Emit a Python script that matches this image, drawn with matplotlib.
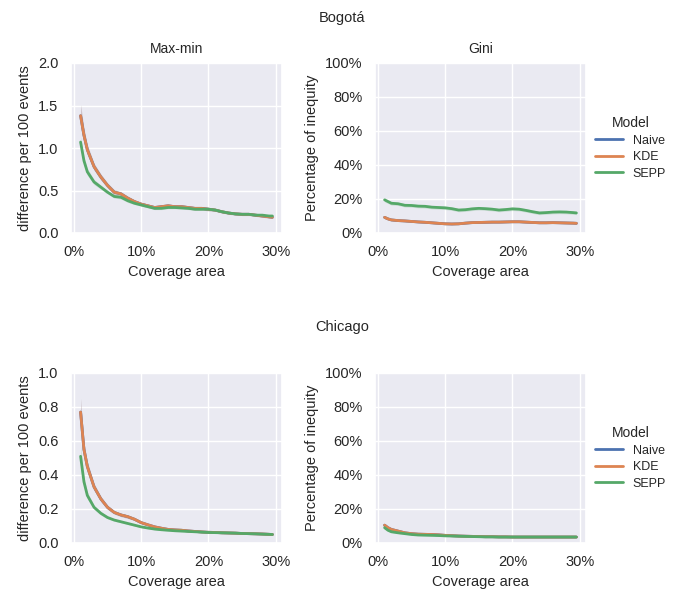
import numpy as np
import matplotlib
matplotlib.use("Agg")
import matplotlib.pyplot as plt
from matplotlib.ticker import PercentFormatter, MultipleLocator
import seaborn as sns

# ---------------- data ----------------
coverage = [0.01, 0.015, 0.02, 0.03, 0.04, 0.05, 0.06, 0.07, 0.08, 0.09, 0.10,
            0.11, 0.12, 0.13, 0.14, 0.15, 0.16, 0.17, 0.18, 0.19, 0.20,
            0.21, 0.22, 0.23, 0.24, 0.25, 0.26, 0.27, 0.28, 0.29, 0.295]

models = ["Naive", "KDE", "SEPP"]
colors = ["#4c72b0", "#dd8452", "#55a868"]

# Bogota, Max-min
bog_maxmin_kde = [1.38, 1.15, 0.98, 0.78, 0.66, 0.56, 0.48, 0.46, 0.41, 0.37, 0.34,
                  0.32, 0.30, 0.31, 0.32, 0.31, 0.31, 0.30, 0.29, 0.29, 0.28,
                  0.27, 0.25, 0.235, 0.225, 0.22, 0.22, 0.21, 0.20, 0.19, 0.185]
bog_maxmin_naive = bog_maxmin_kde
bog_maxmin_sepp = [1.07, 0.85, 0.72, 0.60, 0.54, 0.48, 0.43, 0.42, 0.38, 0.35, 0.33,
                   0.31, 0.29, 0.29, 0.30, 0.30, 0.295, 0.29, 0.28, 0.28, 0.28,
                   0.27, 0.25, 0.235, 0.225, 0.22, 0.22, 0.21, 0.21, 0.20, 0.20]
bog_maxmin_kde_band = [0.13, 0.08, 0.06, 0.04, 0.035, 0.03, 0.03, 0.025, 0.025, 0.02, 0.02,
                       0.02, 0.02, 0.02, 0.02, 0.02, 0.02, 0.02, 0.02, 0.02, 0.02,
                       0.015, 0.015, 0.015, 0.015, 0.015, 0.015, 0.015, 0.015, 0.015, 0.015]
bog_maxmin_sepp_band = [0.06, 0.05, 0.04, 0.03, 0.025, 0.02, 0.02, 0.02, 0.02, 0.015, 0.015,
                        0.015, 0.015, 0.015, 0.015, 0.015, 0.015, 0.015, 0.015, 0.015, 0.015,
                        0.012, 0.012, 0.012, 0.012, 0.012, 0.012, 0.012, 0.012, 0.012, 0.012]

# Bogota, Gini
bog_gini_kde = [0.092, 0.083, 0.077, 0.073, 0.071, 0.068, 0.065, 0.063, 0.060, 0.057, 0.054,
                0.053, 0.054, 0.058, 0.061, 0.062, 0.063, 0.064, 0.064, 0.065, 0.066,
                0.066, 0.064, 0.062, 0.060, 0.060, 0.061, 0.060, 0.059, 0.058, 0.057]
bog_gini_naive = bog_gini_kde
bog_gini_sepp = [0.195, 0.185, 0.175, 0.172, 0.163, 0.162, 0.158, 0.157, 0.152, 0.150, 0.148,
                 0.143, 0.135, 0.137, 0.142, 0.145, 0.143, 0.140, 0.135, 0.138, 0.142,
                 0.140, 0.133, 0.125, 0.118, 0.120, 0.123, 0.124, 0.123, 0.120, 0.118]
bog_gini_kde_band = [0.006, 0.005, 0.005, 0.004, 0.004, 0.004, 0.004, 0.004, 0.004, 0.004, 0.004,
                     0.004, 0.004, 0.004, 0.004, 0.004, 0.004, 0.004, 0.004, 0.004, 0.004,
                     0.004, 0.004, 0.004, 0.004, 0.004, 0.004, 0.004, 0.004, 0.004, 0.004]
bog_gini_sepp_band = [0.012, 0.011, 0.011, 0.010, 0.010, 0.010, 0.010, 0.010, 0.010, 0.010, 0.010,
                      0.010, 0.010, 0.010, 0.010, 0.010, 0.010, 0.010, 0.010, 0.010, 0.010,
                      0.010, 0.010, 0.010, 0.010, 0.010, 0.010, 0.010, 0.010, 0.010, 0.010]

# Chicago, Max-min
chi_maxmin_kde = [0.77, 0.55, 0.45, 0.33, 0.26, 0.21, 0.18, 0.165, 0.155, 0.14, 0.12,
                  0.107, 0.095, 0.087, 0.08, 0.077, 0.075, 0.071, 0.068, 0.065, 0.063,
                  0.062, 0.06, 0.059, 0.058, 0.056, 0.055, 0.054, 0.053, 0.051, 0.05]
chi_maxmin_naive = chi_maxmin_kde
chi_maxmin_sepp = [0.51, 0.36, 0.28, 0.21, 0.175, 0.15, 0.135, 0.125, 0.115, 0.105, 0.095,
                   0.088, 0.082, 0.078, 0.075, 0.072, 0.07, 0.068, 0.066, 0.064, 0.062,
                   0.061, 0.06, 0.059, 0.058, 0.056, 0.055, 0.054, 0.052, 0.051, 0.05]
chi_maxmin_kde_band = [0.08, 0.04, 0.03, 0.02, 0.015, 0.012, 0.01, 0.01, 0.01, 0.008, 0.008,
                       0.006, 0.006, 0.005, 0.005, 0.005, 0.004, 0.004, 0.004, 0.004, 0.004,
                       0.003, 0.003, 0.003, 0.003, 0.003, 0.003, 0.003, 0.003, 0.003, 0.003]
chi_maxmin_sepp_band = [0.06, 0.03, 0.02, 0.012, 0.01, 0.008, 0.007, 0.006, 0.006, 0.005, 0.005,
                        0.004, 0.004, 0.004, 0.004, 0.003, 0.003, 0.003, 0.003, 0.003, 0.003,
                        0.003, 0.003, 0.003, 0.003, 0.003, 0.003, 0.003, 0.003, 0.003, 0.003]

# Chicago, Gini
chi_gini_kde = [0.105, 0.09, 0.08, 0.07, 0.06, 0.055, 0.052, 0.051, 0.05, 0.048, 0.045,
                0.043, 0.041, 0.040, 0.039, 0.038, 0.037, 0.037, 0.036, 0.036, 0.035,
                0.035, 0.035, 0.035, 0.035, 0.035, 0.035, 0.035, 0.035, 0.035, 0.035]
chi_gini_naive = chi_gini_kde
chi_gini_sepp = [0.09, 0.075, 0.066, 0.06, 0.055, 0.05, 0.047, 0.046, 0.045, 0.044, 0.042,
                 0.041, 0.040, 0.039, 0.038, 0.037, 0.036, 0.036, 0.035, 0.035, 0.035,
                 0.035, 0.035, 0.035, 0.035, 0.035, 0.035, 0.035, 0.035, 0.035, 0.035]
chi_gini_kde_band = [0.006, 0.005, 0.004, 0.004, 0.003, 0.003, 0.003, 0.003, 0.003, 0.003, 0.003,
                     0.002, 0.002, 0.002, 0.002, 0.002, 0.002, 0.002, 0.002, 0.002, 0.002,
                     0.002, 0.002, 0.002, 0.002, 0.002, 0.002, 0.002, 0.002, 0.002, 0.002]
chi_gini_sepp_band = chi_gini_kde_band

cities = ["Bogotá", "Chicago"]
metrics = ["Max-min", "Gini"]
ylabels = ["difference per 100 events", "Percentage of inequity"]
xticks = [0.0, 0.10, 0.20, 0.30]

panels = {
    ("Bogotá", "Max-min"): ([bog_maxmin_naive, bog_maxmin_kde, bog_maxmin_sepp],
                            [bog_maxmin_kde_band, bog_maxmin_kde_band, bog_maxmin_sepp_band], 2.0, 0.5),
    ("Bogotá", "Gini"): ([bog_gini_naive, bog_gini_kde, bog_gini_sepp],
                         [bog_gini_kde_band, bog_gini_kde_band, bog_gini_sepp_band], 1.0, 0.2),
    ("Chicago", "Max-min"): ([chi_maxmin_naive, chi_maxmin_kde, chi_maxmin_sepp],
                             [chi_maxmin_kde_band, chi_maxmin_kde_band, chi_maxmin_sepp_band], 1.0, 0.2),
    ("Chicago", "Gini"): ([chi_gini_naive, chi_gini_kde, chi_gini_sepp],
                          [chi_gini_kde_band, chi_gini_kde_band, chi_gini_sepp_band], 1.0, 0.2),
}

# ---------------- style ----------------
sns.set_theme(style="darkgrid")
plt.rcParams["font.family"] = ["Liberation Sans", "DejaVu Sans"]
plt.rcParams["font.size"] = 10.5

fig = plt.figure(figsize=(6.85, 6.05), dpi=100)
W, H = 685.0, 605.0

lefts = [71, 375]
tops = [63, 373]
aw, ah = 211, 170

x = np.array(coverage)
for r, city in enumerate(cities):
    for c, metric in enumerate(metrics):
        ax = fig.add_axes([lefts[c] / W, 1 - (tops[r] + ah) / H, aw / W, ah / H])
        series, bands, ymax, ystep = panels[(city, metric)]
        handles = []
        for name, col, y, b in zip(models, colors, series, bands):
            y = np.array(y)
            b = np.array(b)
            ax.fill_between(x, y - b, y + b, color=col, alpha=0.2, linewidth=0)
            h, = ax.plot(x, y, color=col, lw=2, label=name)
            handles.append(h)
        ax.set_xlim(-0.00425, 0.30925)
        ax.set_ylim(0, ymax)
        ax.yaxis.set_major_locator(MultipleLocator(ystep))
        ax.set_xticks(xticks)
        ax.xaxis.set_major_formatter(PercentFormatter(1, decimals=0))
        if metric == "Gini":
            ax.yaxis.set_major_formatter(PercentFormatter(1, decimals=0))
        else:
            ax.yaxis.set_major_formatter(matplotlib.ticker.FormatStrFormatter("%.1f"))
        ax.tick_params(labelsize=10.5, colors="#262626", pad=3)
        ax.set_xlabel("Coverage area", fontsize=10.5, color="#262626")
        ax.set_ylabel(ylabels[c], fontsize=10.5, color="#262626")
        if r == 0:
            ax.set_title(metric, fontsize=10, color="#262626", pad=7)
        if c == 1:
            leg = fig.legend(handles=handles, labels=models, title="Model",
                             loc="center left",
                             bbox_to_anchor=(584 / W, 1 - (tops[r] + ah / 2) / H),
                             frameon=False, fontsize=9, title_fontsize=10,
                             handlelength=2.2, handletextpad=0.8, labelspacing=0.35)
    fig.text(0.5, 1 - (18 if r == 0 else 327) / H, city, ha="center", va="center",
             fontsize=10.5, color="#262626")

fig.savefig("out.png", dpi=100)
